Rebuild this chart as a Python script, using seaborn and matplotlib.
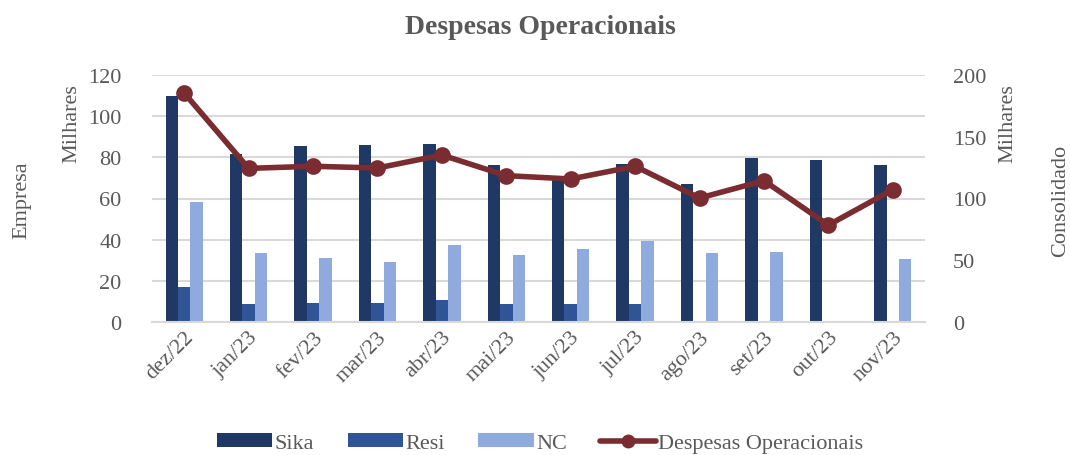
import numpy as np
import pandas as pd
import matplotlib
matplotlib.use("Agg")
import matplotlib.pyplot as plt
import seaborn as sns
from matplotlib.ticker import FixedLocator
from matplotlib.patches import Patch
from matplotlib.lines import Line2D

# Data (Milhares)
months = ["dez/22", "jan/23", "fev/23", "mar/23", "abr/23", "mai/23",
          "jun/23", "jul/23", "ago/23", "set/23", "out/23", "nov/23"]
sika = [109.8, 81.6, 85.5, 85.9, 86.3, 76.3, 69.8, 76.8, 67.1, 79.8, 78.9, 76.4]
resi = [17.2, 8.7, 9.4, 9.1, 10.8, 8.9, 8.7, 8.7, np.nan, np.nan, np.nan, np.nan]
nc = [58.2, 33.5, 31.1, 29.2, 37.4, 32.7, 35.3, 39.5, 33.5, 34.2, np.nan, 30.6]
consolidado = [185.4, 124.4, 126.1, 124.7, 135.2, 118.5, 115.8, 126.1, 100.4, 114.4, 78.5, 107.1]

series_names = ["Sika", "Resi", "NC"]
colors = ["#203864", "#2F5597", "#8FAADC"]
line_color = "#7B2C31"
text_color = "#595959"

sns.set_style("white")
plt.rcParams["font.family"] = ["Liberation Serif", "DejaVu Serif"]

df = pd.DataFrame({
    "mes": months * 3,
    "valor": sika + resi + nc,
    "serie": ["Sika"] * 12 + ["Resi"] * 12 + ["NC"] * 12,
})

fig = plt.figure(figsize=(10.7, 4.56), dpi=100)
ax = fig.add_axes([152 / 1070, 1 - 323 / 456, (925 - 152) / 1070, (323 - 76) / 456])

sns.barplot(data=df, x="mes", y="valor", hue="serie", order=months,
            hue_order=series_names, palette=colors, width=0.58,
            saturation=1, edgecolor="none", legend=False, ax=ax)

ax.set_ylim(0, 120)
ax.set_yticks(range(0, 121, 20))
ax.set_xlim(-0.5, len(months) - 0.5)
ax.yaxis.grid(True, color="#D9D9D9", linewidth=1.5)
ax.set_axisbelow(True)
for s in ["left", "right", "top"]:
    ax.spines[s].set_visible(False)
ax.spines["bottom"].set_color("#D9D9D9")
ax.spines["bottom"].set_linewidth(1.5)
ax.tick_params(axis="y", length=0, labelsize=16, labelcolor=text_color, pad=22)
ax.tick_params(axis="x", which="major", length=0, labelsize=16, labelcolor=text_color, pad=4)
ax.xaxis.set_minor_locator(FixedLocator(np.arange(-0.5, len(months), 1.0)))
ax.tick_params(axis="x", which="minor", length=7, width=1.5, color="#D9D9D9")
plt.setp(ax.get_xticklabels(), rotation=45, ha="right", rotation_mode="anchor")
ax.set_xlabel("")
ax.set_ylabel("")

ax2 = ax.twinx()
sns.pointplot(x=months, y=consolidado, ax=ax2, color=line_color, markers="o",
              markersize=9, linewidth=4)
ax2.set_ylim(0, 200)
ax2.set_yticks(range(0, 201, 50))
ax2.set_xlim(-0.5, len(months) - 0.5)
for s in ["left", "right", "top", "bottom"]:
    ax2.spines[s].set_visible(False)
ax2.tick_params(axis="y", length=0, labelsize=16, labelcolor=text_color, pad=20)

# Axis titles
fig.text(22 / 1070, 1 - 200 / 456, "Empresa", rotation=90, ha="center", va="center",
         fontsize=16, color=text_color)
fig.text(72 / 1070, 1 - 124 / 456, "Milhares", rotation=90, ha="center", va="center",
         fontsize=16, color=text_color)
fig.text(1008 / 1070, 1 - 124 / 456, "Milhares", rotation=90, ha="center", va="center",
         fontsize=16, color=text_color)
fig.text(1061 / 1070, 1 - 201 / 456, "Consolidado", rotation=90, ha="center", va="center",
         fontsize=16, color=text_color)

fig.text(0.505, 1 - 27 / 456, "Despesas Operacionais", ha="center", va="center",
         fontsize=20, fontweight="bold", color=text_color)

# Legend
handles = [Patch(facecolor=c, edgecolor="none") for c in colors]
handles.append(Line2D([], [], color=line_color, linewidth=4, marker="o", markersize=9))
leg = fig.legend(handles, series_names + ["Despesas Operacionais"], loc="center",
                 bbox_to_anchor=(540 / 1070, 1 - 444 / 456), ncol=4, frameon=False,
                 fontsize=16, handlelength=2.5, handleheight=0.6, handletextpad=0.1,
                 columnspacing=1.5, borderaxespad=0)
for t in leg.get_texts():
    t.set_color(text_color)

fig.savefig("out.png", dpi=100)
